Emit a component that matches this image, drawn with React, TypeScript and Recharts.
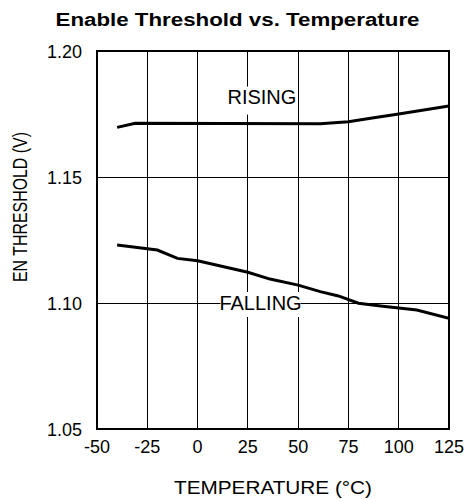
import { LineChart, Line, XAxis, YAxis, CartesianGrid, ReferenceDot, ReferenceArea } from "recharts";

const tempTicks = [-50, -25, 0, 25, 50, 75, 100, 125];
const voltTicks = [1.05, 1.1, 1.15, 1.2];

const risingTemp = [-40, -31, 61, 75, 86, 100, 125];
const risingV = [1.1697, 1.1713, 1.1711, 1.1719, 1.1733, 1.175, 1.1782];

const fallingTemp = [-40, -20, -10, 0, 25, 36, 50, 61, 70, 80, 91, 109, 125];
const fallingV = [1.123, 1.121, 1.1177, 1.1168, 1.1122, 1.1095, 1.1071, 1.1045, 1.1028, 1.0999, 1.0988, 1.0972, 1.0939];

const rising = risingTemp.map((t, i) => ({ t, v: risingV[i] }));
const falling = fallingTemp.map((t, i) => ({ t, v: fallingV[i] }));

const font = "'Liberation Sans', Arial, Helvetica, sans-serif";

const XTick = ({ x, y, payload }: any) => (
  <text x={x} y={y + 24} textAnchor="middle" fontSize={18} fill="#000" fontFamily={font}>
    {payload.value}
  </text>
);

const YTick = ({ x, y, payload }: any) => (
  <text x={x} y={y + 6.5} textAnchor="end" fontSize={18} fill="#000" fontFamily={font}>
    {Number(payload.value).toFixed(2)}
  </text>
);

const tag = (text: string, left: number, right: number, up: number, down: number) => (p: any) => (
  <g>
    <rect x={p.cx - left} y={p.cy - up} width={left + right} height={up + down} fill="#fff" />
    <text x={p.cx} y={p.cy + 7} textAnchor="middle" fontSize={20} fill="#000" fontFamily={font}>
      {text}
    </text>
  </g>
);

export default function App() {
  return (
    <div style={{ position: "absolute", left: 0, top: 0, width: 468, height: 499, background: "#fff", fontFamily: font }}>
      <svg width={468} height={40} style={{ position: "absolute", left: 0, top: 0 }}>
        <text x={237.5} y={26} textAnchor="middle" fontSize={18} fontWeight="bold" fill="#000" textLength={364} lengthAdjust="spacingAndGlyphs">
          Enable Threshold vs. Temperature
        </text>
      </svg>
      <LineChart width={468} height={499} margin={{ top: 51, right: 19, bottom: 0, left: 0 }}>
        <CartesianGrid stroke="#000" strokeWidth={1} shapeRendering="crispEdges" />
        <XAxis
          type="number"
          dataKey="t"
          domain={[-50, 125]}
          ticks={tempTicks}
          height={70}
          axisLine={false}
          tickLine={false}
          tickSize={0}
          tickMargin={0}
          tick={<XTick />}
          allowDataOverflow
          label={{
            content: (p: any) => (
              <text x={p.viewBox.x + p.viewBox.width / 2} y={p.viewBox.y + 65} textAnchor="middle" fontSize={18} fill="#000" fontFamily={font} textLength={198} lengthAdjust="spacingAndGlyphs">
                TEMPERATURE (°C)
              </text>
            ),
          }}
        />
        <YAxis
          type="number"
          domain={[1.05, 1.2]}
          ticks={voltTicks}
          width={97}
          axisLine={false}
          tickLine={false}
          tickSize={0}
          tickMargin={15}
          tick={<YTick />}
          allowDataOverflow
          label={{
            content: (p: any) => (
              <text transform={`translate(${p.viewBox.x + 20}, 207) rotate(-90)`} x={0} y={7} textAnchor="middle" fontSize={19.5} fill="#000" fontFamily={font} textLength={150} lengthAdjust="spacingAndGlyphs">
                EN THRESHOLD (V)
              </text>
            ),
          }}
        />
        <ReferenceArea x1={-50} x2={125} y1={1.05} y2={1.2} fill="none" stroke="#000" strokeWidth={2} shapeRendering="crispEdges" />
        <ReferenceDot x={32} y={1.1819} r={0} shape={tag("RISING", 37, 34, 10, 18)} />
        <ReferenceDot x={31.3} y={1.1} r={0} shape={tag("FALLING", 40, 40, 11, 14)} />
        <Line data={rising} dataKey="v" type="linear" stroke="#000" strokeWidth={3} dot={false} isAnimationActive={false} />
        <Line data={falling} dataKey="v" type="linear" stroke="#000" strokeWidth={3} dot={false} isAnimationActive={false} />
      </LineChart>
    </div>
  );
}
